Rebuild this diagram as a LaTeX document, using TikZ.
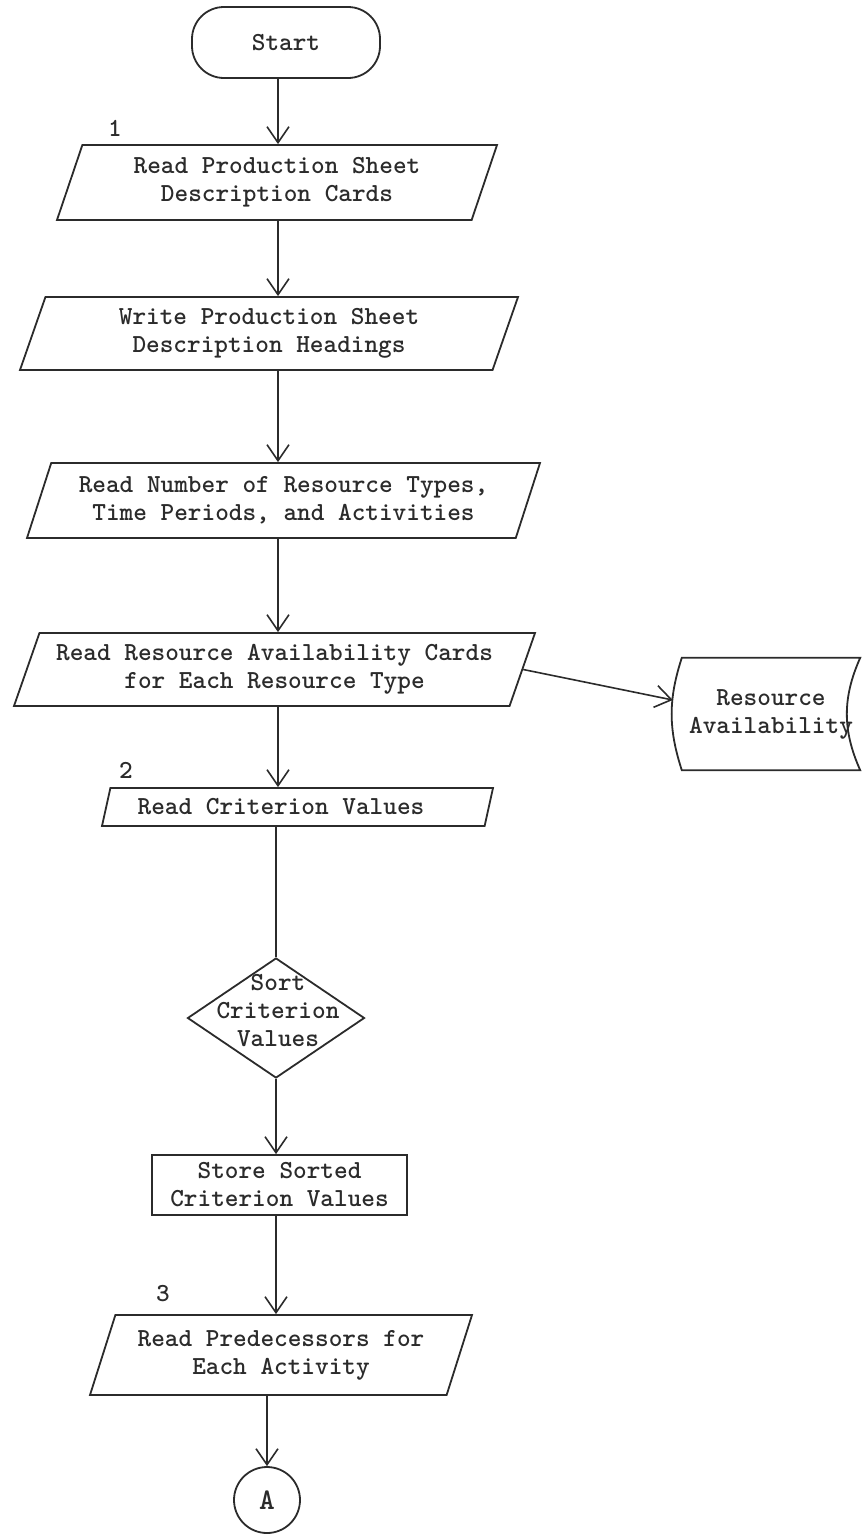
\documentclass[tikz,border=0pt]{standalone}
\usepackage{fontspec}
\usetikzlibrary{shapes.geometric,arrows.meta,calc}
\definecolor{ink}{HTML}{2B2B2B}
\begin{document}
\begin{tikzpicture}[x=1pt,y=-1pt,
  every node/.style={font=\ttfamily\bfseries\fontsize{26}{28}\selectfont, text=ink},
  edge/.style={draw=ink, line width=1.8pt},
  terminal/.style={edge, rectangle, rounded corners=32pt, minimum width=188pt, minimum height=71pt},
  io/.style={edge, trapezium, trapezium left angle=63, trapezium right angle=117,
    trapezium stretches body, inner sep=0pt, align=center},
  process/.style={edge, rectangle, inner sep=0pt, align=center},
  decision/.style={edge, diamond, inner sep=0pt},
  connector/.style={edge, circle, inner sep=0pt, minimum size=66pt},
  tag/.style={inner sep=0pt},
  flow/.style={draw=ink, line width=1.6pt,
    -{Straight Barb[length=16pt,width=22pt,line width=1.6pt]}},
  plain/.style={draw=ink, line width=1.6pt}]

\useasboundingbox (0,0) rectangle (862,1534);

% column carrying the main vertical flow
\coordinate (col) at (278,0);

% main flow
\node[terminal] (start) at (286,42.5) {Start};
\node[io, minimum width=440pt, minimum height=75pt] (rdsheet) at (277,182.5)
  {Read Production Sheet\\Description Cards};
\node[io, minimum width=498pt, minimum height=73pt] (wrhead) at (269,333.5)
  {Write Production Sheet\\Description Headings};
\node[io, minimum width=513pt, minimum height=75pt] (rdnum) at (283.5,500.5)
  {Read Number of Resource Types,\\Time Periods, and Activities};
\node[io, minimum width=521pt, minimum height=73pt] (rdres) at (274.5,669.5)
  {Read Resource Availability Cards\\for Each Resource Type};
\node[io, minimum width=391pt, minimum height=38pt] (rdcrit) at (297.5,807)
  {\hspace*{-33pt}Read Criterion Values};
\node[decision, minimum width=177pt, minimum height=120pt,
  label={[align=center, xshift=2pt, yshift=7pt]center:{Sort\\Criterion\\Values}}]
  (sort) at (276,1018) {};
\node[process, minimum width=255pt, minimum height=60pt] (keep) at (279.5,1185)
  {Store Sorted\\Criterion Values};
\node[io, minimum width=382pt, minimum height=80pt] (rdpred) at (281,1355)
  {Read Predecessors for\\Each Activity};
\node[connector, font=\ttfamily\bfseries\fontsize{30}{32}\selectfont] (conn) at (267,1500) {A};

% reference numbers
\node[tag] (tag1) at (115,128) {1};
\node[tag] (tag2) at (126,770) {2};
\node[tag] (tag3) at (163,1294) {3};

% stored data: resource availability
\node[inner sep=0pt, minimum width=178pt, minimum height=112pt, align=center]
  (avail) at (771,714) {Resource\\Availability};
\draw[edge] (avail.north west) to[bend right=18] (avail.south west)
  -- (avail.south east) to[bend left=24] (avail.north east) -- cycle;

% connectors
\draw[flow] (start.south -| col) -- (rdsheet.north -| col);
\draw[flow] (rdsheet.south -| col) -- (wrhead.north -| col);
\draw[flow] (wrhead.south -| col) -- (rdnum.north -| col);
\draw[flow] (rdnum.south -| col) -- (rdres.north -| col);
\draw[flow] (rdres.south -| col) -- (rdcrit.north -| col);
\draw[plain] (rdcrit.south -| sort.north) -- (sort.north);
\draw[flow] (sort.south) -- (keep.north -| sort.south);
\draw[flow] (keep.south -| sort.south) -- (rdpred.north -| sort.south);
\draw[flow] (rdpred.south -| conn.north) -- (conn.north);
\draw[flow] (rdres.east) -- ($(avail.west)+(-9,-14)$);

\end{tikzpicture}
\end{document}
